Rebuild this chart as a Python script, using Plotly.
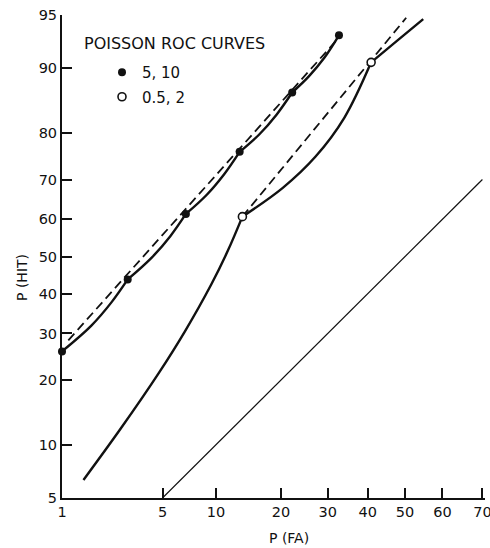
import plotly.graph_objects as go
from statistics import NormalDist

# ---- data (percent values) ----
x_ticks = [1, 5, 10, 20, 30, 40, 50, 60, 70]
y_ticks = [5, 10, 20, 30, 40, 50, 60, 70, 80, 90, 95]

# Poisson ROC "5, 10" (filled points)
pts_5_10_fa = [1.0, 3.0, 6.86, 13.1, 22.2, 32.7]
pts_5_10_hit = [25.9, 43.8, 61.4, 76.2, 86.8, 93.4]
curve_5_10_fa = [1.0, 1.67, 2.33, 3.0, 4.29, 5.57, 6.86, 8.94, 11.02, 13.1,
                 16.13, 19.17, 22.2, 25.7, 29.2, 32.7]
curve_5_10_hit = [25.9, 31.9, 37.8, 43.8, 49.7, 55.5, 61.4, 66.3, 71.3, 76.2,
                  79.7, 83.3, 86.8, 89.0, 91.2, 93.4]

# Poisson ROC "0.5, 2" (open points)
pts_05_2_fa = [13.5, 40.9]
pts_05_2_hit = [60.7, 90.7]
curve_05_2_fa = [1.46, 2.7, 4.73, 6.75, 9.45, 11.48, 13.5, 20.35, 27.2, 34.05,
                 40.9, 47.8, 54.9]
curve_05_2_hit = [6.4, 12.1, 21.3, 30.4, 42.5, 51.6, 60.7, 68.0, 75.2, 82.8,
                  90.7, 92.9, 94.7]

# dashed straight lines (constant d')
dash_upper_fa = [1.12, 32.2]
dash_upper_hit = [28.4, 93.0]
dash_lower_fa = [13.5, 50.3]
dash_lower_hit = [60.7, 94.8]

# chance diagonal
chance_fa = [5, 70]
chance_hit = [5, 70]

# ---- probit transform (normal probability paper) ----
nd = NormalDist()


def z(vals):
    return [nd.inv_cdf(v / 100.0) for v in vals]


def split_segments(cfa, chit, vfa, vhit):
    verts = set(zip(vfa, vhit))
    segs, cur = [], []
    for a, b in zip(cfa, chit):
        cur.append((a, b))
        if (a, b) in verts and len(cur) > 1:
            segs.append(cur)
            cur = [(a, b)]
    if len(cur) > 1:
        segs.append(cur)
    return segs


INK = "#111111"
fig = go.Figure()

# chance line
fig.add_trace(go.Scatter(x=z(chance_fa), y=z(chance_hit), mode="lines",
                         line=dict(color=INK, width=1.2), showlegend=False,
                         hoverinfo="skip", cliponaxis=False))

# dashed lines
for fa, hit in [(dash_upper_fa, dash_upper_hit), (dash_lower_fa, dash_lower_hit)]:
    fig.add_trace(go.Scatter(x=z(fa), y=z(hit), mode="lines",
                             line=dict(color=INK, width=1.8, dash="9px,5px"),
                             showlegend=False, hoverinfo="skip", cliponaxis=False))

# solid curves, one smooth spline per segment between ROC vertices
for cfa, chit, vfa, vhit in [
    (curve_5_10_fa, curve_5_10_hit, pts_5_10_fa, pts_5_10_hit),
    (curve_05_2_fa, curve_05_2_hit, pts_05_2_fa, pts_05_2_hit),
]:
    for seg in split_segments(cfa, chit, vfa, vhit):
        fa = [p[0] for p in seg]
        hit = [p[1] for p in seg]
        fig.add_trace(go.Scatter(x=z(fa), y=z(hit), mode="lines",
                                 line=dict(color=INK, width=2.4, shape="spline",
                                           smoothing=1.0),
                                 showlegend=False, hoverinfo="skip",
                                 cliponaxis=False))

# points
fig.add_trace(go.Scatter(x=z(pts_5_10_fa), y=z(pts_5_10_hit), mode="markers",
                         name="5, 10", legendgroup="a",
                         marker=dict(symbol="circle", size=8, color=INK,
                                     line=dict(color=INK, width=0)),
                         cliponaxis=False))
fig.add_trace(go.Scatter(x=z(pts_05_2_fa), y=z(pts_05_2_hit), mode="markers",
                         name="0.5, 2", legendgroup="b",
                         marker=dict(symbol="circle", size=8, color="white",
                                     line=dict(color=INK, width=1.6)),
                         cliponaxis=False))

FONT = "DejaVu Sans"
x_min = nd.inv_cdf(0.01)
x_max = 0.542
y_min = nd.inv_cdf(0.05)
y_max = nd.inv_cdf(0.95)

fig.update_layout(
    width=490, height=548,
    margin=dict(l=62, r=5, t=15, b=50, autoexpand=False),
    paper_bgcolor="white", plot_bgcolor="white",
    font=dict(family=FONT, size=14, color=INK),
    showlegend=True,
    legend=dict(x=(102 - 62) / 423, xanchor="left", y=1 - (56 - 15) / 483,
                yanchor="top",
                font=dict(family=FONT, size=15, color=INK),
                bgcolor="rgba(0,0,0,0)", tracegroupgap=2,
                traceorder="grouped", itemsizing="trace"),
    xaxis=dict(range=[x_min, x_max], tickvals=z(x_ticks),
               ticktext=[str(v) for v in x_ticks],
               showgrid=False, zeroline=False, showline=True,
               linecolor=INK, linewidth=2, ticks="inside", ticklen=10,
               tickwidth=1.5, tickcolor=INK, ticklabelstandoff=0,
               automargin=False, ticklabeloverflow="allow",
               tickfont=dict(family=FONT, size=14.5, color=INK)),
    yaxis=dict(range=[y_min, y_max], tickvals=z(y_ticks),
               ticktext=[str(v) for v in y_ticks],
               showgrid=False, zeroline=False, showline=True,
               linecolor=INK, linewidth=2, ticks="inside", ticklen=10,
               tickwidth=1.5, tickcolor=INK, ticklabelstandoff=0,
               automargin=False, ticklabeloverflow="allow",
               tickfont=dict(family=FONT, size=14.5, color=INK)),
    annotations=[
        dict(text="POISSON ROC CURVES", xref="paper", yref="paper",
             x=(82 - 62) / 423, y=1 - (44 - 15) / 483, xanchor="left",
             yanchor="middle", showarrow=False,
             font=dict(family=FONT, size=16, color=INK)),
        dict(text="P (FA)", xref="paper", yref="paper",
             x=(289 - 62) / 423, y=1 - (538 - 15) / 483, xanchor="center",
             yanchor="middle", showarrow=False,
             font=dict(family=FONT, size=14, color=INK)),
        dict(text="P (HIT)", xref="paper", yref="paper",
             x=(22 - 62) / 423, y=1 - (278 - 15) / 483, xanchor="center",
             yanchor="middle", showarrow=False, textangle=-90,
             font=dict(family=FONT, size=14, color=INK)),
    ],
)

# remove the browser's default 8px page margin so the figure fills the window
fig.write_html("out.html",
               config={"displayModeBar": False},
               post_script="document.body.style.margin='0px';"
                           "document.body.style.overflow='hidden';")
